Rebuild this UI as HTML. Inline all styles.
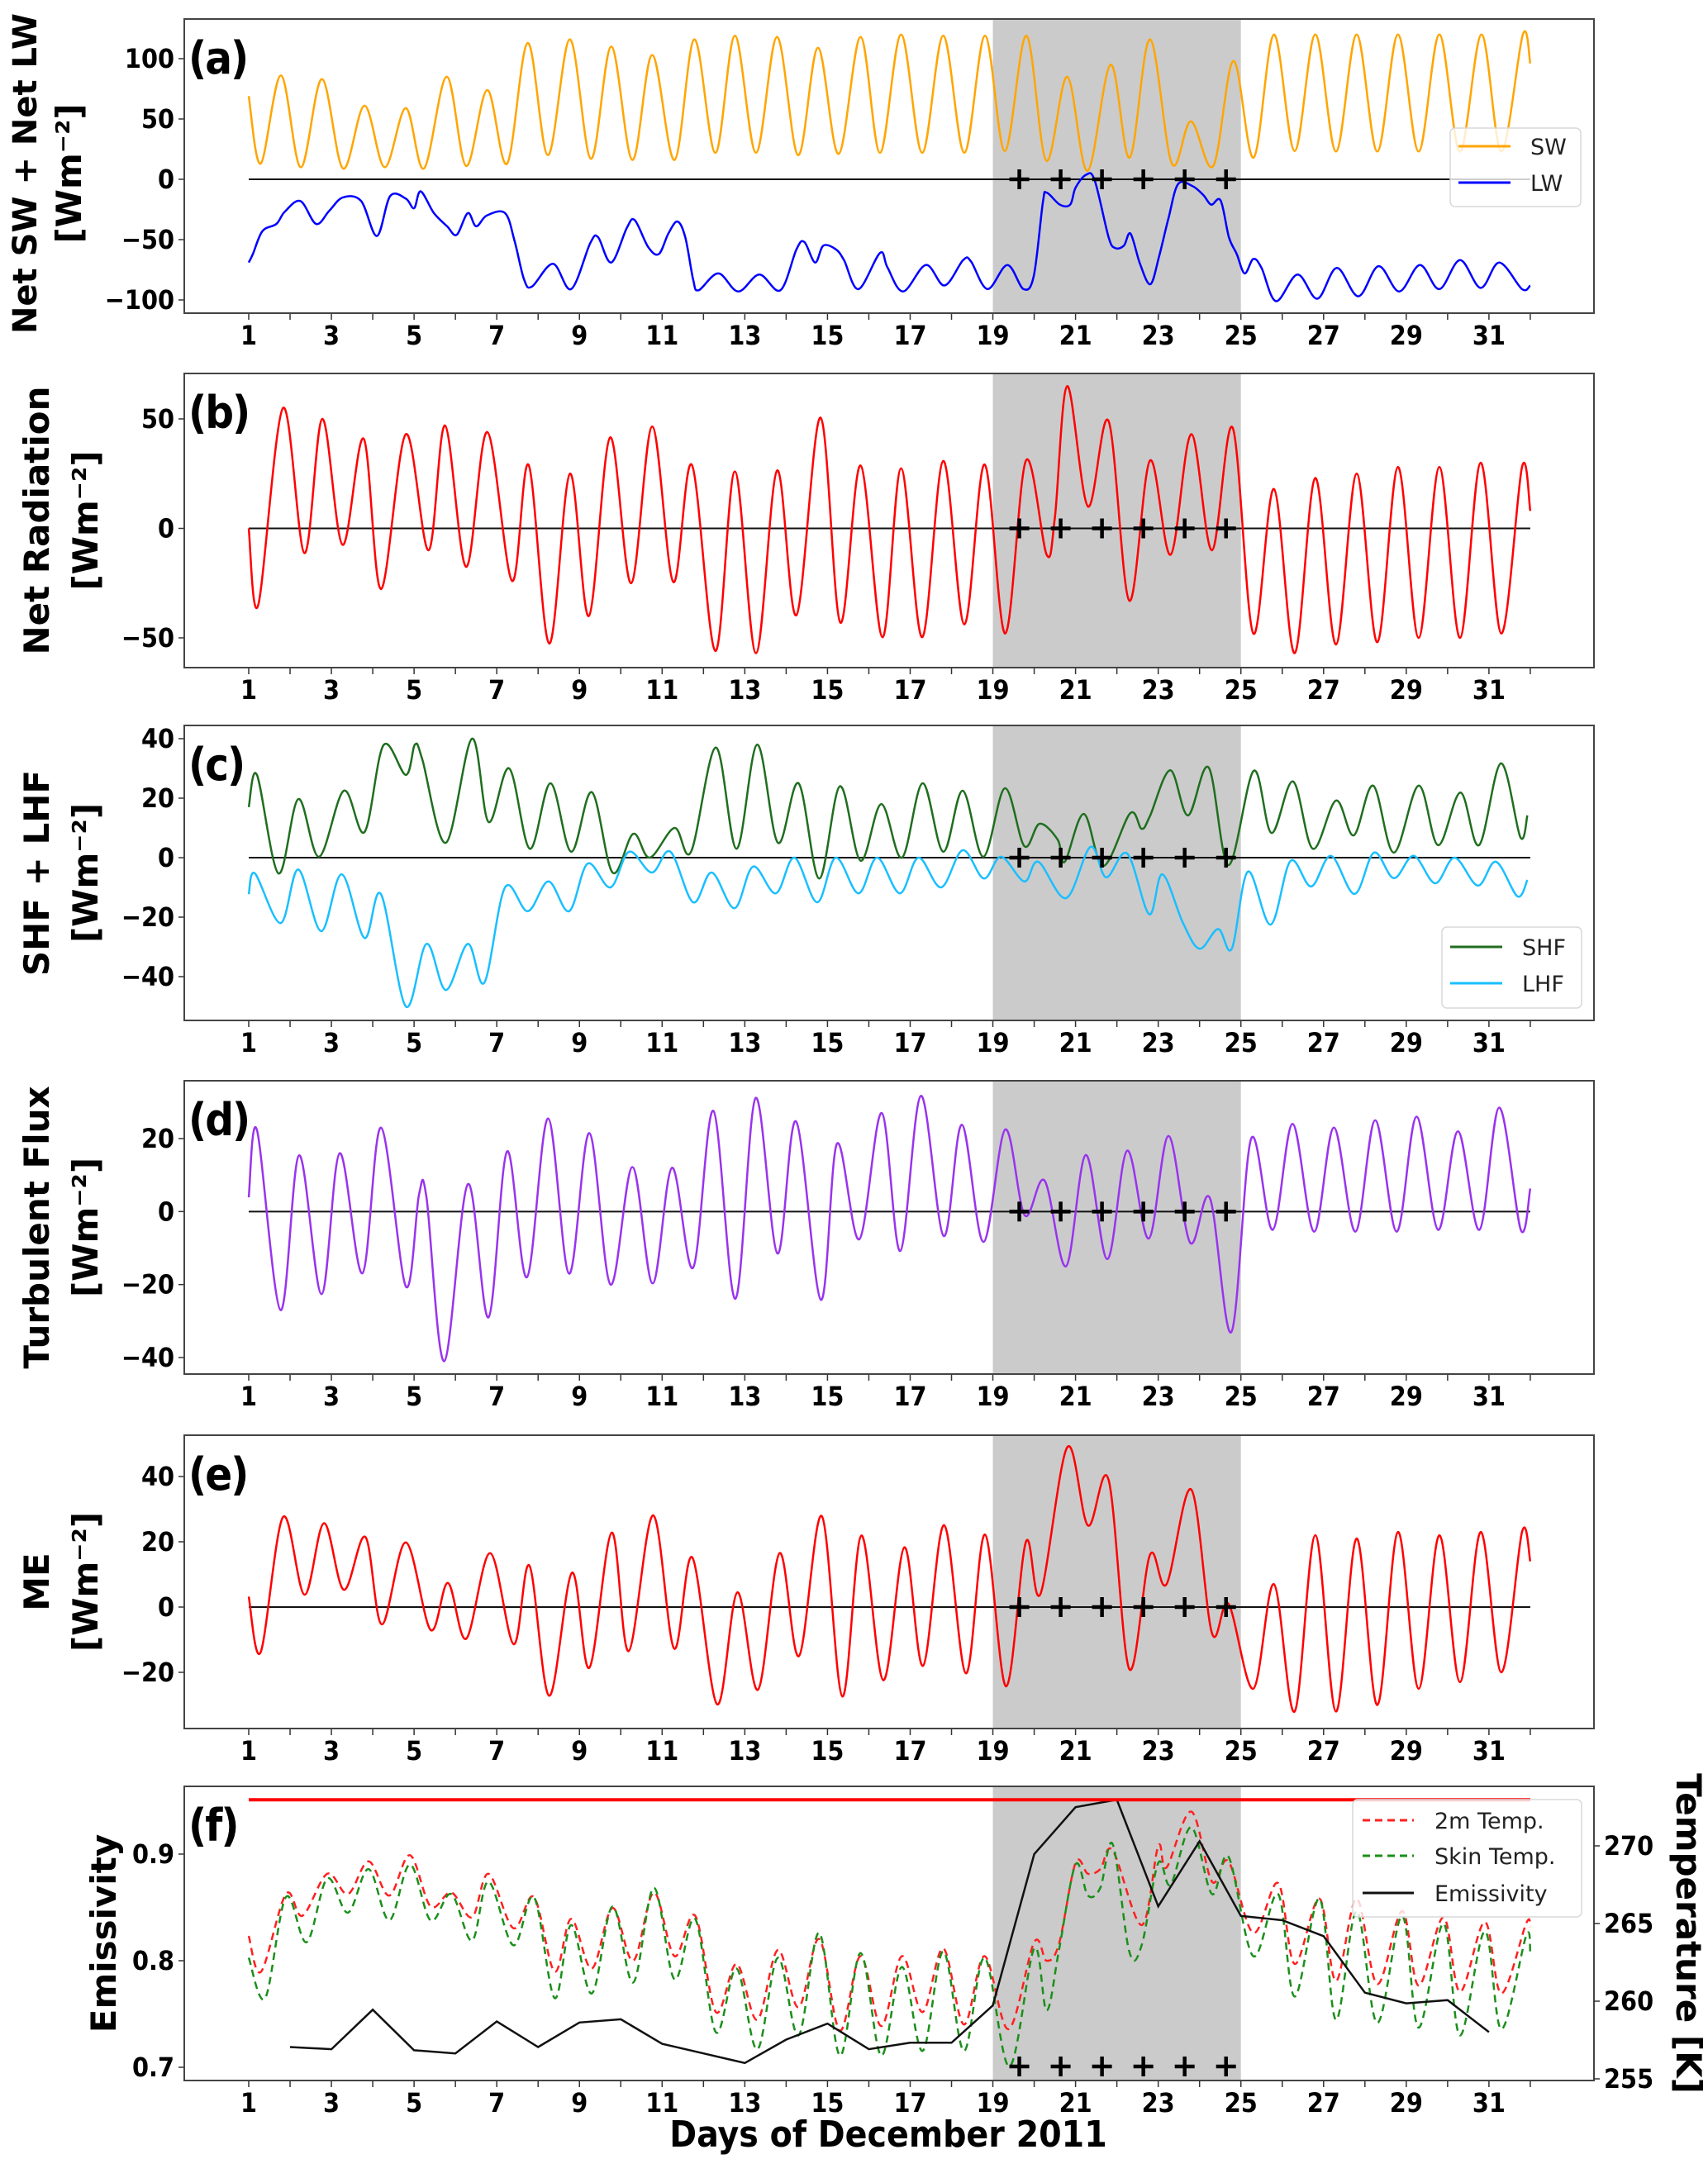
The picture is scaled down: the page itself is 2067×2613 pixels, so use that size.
<!DOCTYPE html>
<html><head><meta charset="utf-8">
<style>
html,body{margin:0;padding:0;background:#fff;}
svg{display:block;font-family:"DejaVu Sans","Liberation Sans",sans-serif;}
</style></head>
<body>
<svg id="fig" width="2067" height="2613" viewBox="0 0 2067 2613" xmlns="http://www.w3.org/2000/svg"></svg>
<script>
// ---------- DATA (time in days, values as read) ----------
const swT=[1,1.29,1.78,2.26,2.77,3.28,3.8,4.29,4.8,5.24,5.79,6.26,6.77,7.25,7.75,8.24,8.77,9.28,9.77,10.28,10.76,11.3,11.78,12.29,12.76,13.27,13.78,14.29,14.77,15.27,15.8,16.27,16.78,17.29,17.8,18.31,18.81,19.29,19.81,20.29,20.8,21.29,21.85,22.31,22.8,23.33,23.79,24.33,24.82,25.31,25.8,26.3,26.8,27.3,27.8,28.3,28.8,29.3,29.8,30.3,30.82,31.3,31.82,32];
const swV=[69,13,86,10,83,9,61,10,59,9,85,11,74,13,113,20,116,17,110,16,103,16,116,22,119,22,118,20,109,21,118,22,120,22,119,22,119,23.5,119,15.5,85,7,95,18,116,13,48,11,98,18,120,23.5,120,23,120,23,120,23,120,23,120,23,120,96];
const lwT=[1,1.1,1.33,1.67,1.87,2.25,2.63,2.95,3.28,3.72,4.1,4.42,4.8,5,5.16,5.48,5.8,6.03,6.3,6.5,6.76,7.2,7.43,7.66,7.85,8.36,8.8,9.26,9.45,9.77,10.15,10.34,10.66,10.92,11.15,11.37,11.56,11.75,11.88,12.36,12.84,13.35,13.86,14.25,14.44,14.7,14.9,15.2,15.4,15.75,16.27,16.45,16.83,17.38,17.83,18.28,18.47,18.87,19.35,19.74,19.99,20.21,20.3,20.62,20.87,21,21.25,21.46,21.8,21.96,22.17,22.33,22.56,22.81,23.02,23.25,23.48,23.82,24.09,24.28,24.51,24.71,24.9,25.09,25.3,25.5,25.85,26.37,26.85,27.32,27.84,28.33,28.83,29.33,29.8,30.3,30.8,31.25,31.8,32];
const lwV=[-69,-62,-43,-37,-27,-18,-37,-26,-15,-18,-47,-14,-16,-24,-10,-28,-39,-46,-28,-39,-30,-28,-51,-83,-89,-70,-91,-53,-48,-69,-40,-34,-56,-62,-45,-35,-48,-83,-92,-78,-93,-79,-92,-58,-52,-69,-55,-58,-67,-91,-61,-73,-93,-71,-88,-67,-68,-91,-71,-91,-80,-19,-11,-21,-21,-7,3.6,-0.5,-48,-57,-55,-45,-70,-87,-64,-32,-4,-5.5,-13,-21,-17.6,-48,-62,-78,-66,-73.5,-101,-79,-99,-73.5,-97,-72,-93,-71,-91,-67,-90,-69,-91,-88];
const nrT=[1,1.23,1.83,2.35,2.78,3.27,3.78,4.2,4.8,5.35,5.75,6.26,6.77,7.37,7.77,8.27,8.77,9.23,9.74,10.25,10.76,11.27,11.72,12.29,12.76,13.27,13.78,14.25,14.83,15.31,15.8,16.33,16.78,17.29,17.8,18.31,18.8,19.3,19.8,20.3,20.5,20.8,21.3,21.8,22.3,22.8,23.3,23.8,24.3,24.8,25.3,25.8,26.3,26.8,27.3,27.8,28.3,28.8,29.3,29.8,30.3,30.8,31.3,31.8,32];
const nrV=[0,-35,55,-11.3,50,-7.5,41,-27.7,43,-10,47,-17.6,44,-24,29,-52.6,25,-40,41.5,-25,46.5,-24.5,29,-56,26,-57,26.4,-39.6,50.6,-43,28.7,-49.7,27.4,-49.7,30.8,-43.8,29.2,-48,31,-12,5,65,10,49,-33,31,-12,43,-10,46,-48,18,-57,23,-53,25,-52,28,-50,28,-50,30,-48,28,8];
const shfT=[1,1.2,1.72,2.2,2.7,3.3,3.8,4.26,4.8,5.02,5.2,5.77,6.4,6.8,7.3,7.8,8.3,8.8,9.3,9.8,10.3,10.7,11.3,11.7,12.3,12.8,13.3,13.8,14.3,14.8,15.3,15.8,16.3,16.8,17.3,17.8,18.27,18.77,19.29,19.76,20.13,20.57,20.74,21.2,21.67,22.32,22.6,22.8,23.29,23.72,24.22,24.7,25.31,25.74,26.26,26.74,27.3,27.73,28.2,28.7,29.3,29.77,30.31,30.76,31.29,31.76,31.93];
const shfV=[17,27.8,-5.3,19.7,0.3,22.5,8.6,37.8,27.8,38,33,5,40,12,30,3,25,2,22,-5,8,0,10,2,37,3,38,5,25,-7,24,-1,18,0,25,2,22.5,0.3,23.3,3.9,11.4,6,-1.4,14.7,-2.8,14.9,9.7,14,29.4,14.2,30.3,-2.5,29.2,8.3,25.6,3,19.2,7.5,24.2,1.7,24.2,4.2,21.9,4.2,31.7,6.9,14.2];
const lhfT=[1,1.15,1.77,2.2,2.75,3.25,3.8,4.2,4.8,5.3,5.77,6.3,6.7,7.2,7.75,8.25,8.75,9.2,9.75,10.2,10.75,11.2,11.75,12.2,12.75,13.2,13.75,14.2,14.75,15.2,15.75,16.2,16.75,17.2,17.75,18.27,18.78,19.2,19.76,20.1,20.77,21.36,21.74,22.25,22.78,23.1,23.6,24,24.45,24.78,25.17,25.72,26.2,26.7,27.18,27.75,28.22,28.7,29.18,29.7,30.17,30.73,31.17,31.69,31.93];
const lhfV=[-12.3,-5.3,-22,-4,-24.7,-5.6,-27,-12.3,-50,-29,-44.5,-29,-42,-10,-18,-8,-18,-2,-10,2,-5,2,-15,-5,-17,-3,-12,0,-15,0,-12,0,-12,0,-10,2.5,-7,0.3,-8,-1.4,-13.6,3.6,-6.6,1.4,-19,-5.6,-22,-30.6,-24,-30.6,-4.7,-22.5,-1.1,-9.7,0.6,-12.2,1.7,-6.9,0.6,-8.6,0,-9.4,-1.4,-13,-7.5];
const tfT=[1,1.2,1.77,2.22,2.76,3.2,3.75,4.2,4.8,5.12,5.3,5.73,6.3,6.8,7.25,7.73,8.24,8.75,9.24,9.75,10.28,10.77,11.24,11.75,12.24,12.77,13.26,13.79,14.24,14.84,15.23,15.77,16.31,16.76,17.26,17.81,18.25,18.77,19.3,19.77,20.25,20.77,21.25,21.77,22.25,22.77,23.25,23.77,24.25,24.77,25.25,25.77,26.25,26.77,27.25,27.77,28.25,28.77,29.25,29.77,30.25,30.77,31.25,31.77,32];
const tfV=[3.9,22.3,-27,15.4,-22.6,16,-16.9,23,-20.5,4.7,3.9,-41,7.5,-29,16.5,-18,25.5,-17,21.5,-20,12.2,-19.7,12,-15.4,27.6,-23.9,31.1,-11.5,24.7,-24.2,18.6,-7.6,27,-10.8,31.7,-6.7,23.8,-8.3,22.5,-1,8.5,-15,15.5,-13,16.7,-7.4,20.7,-8.5,3.7,-33,20,-5,24,-5.5,23,-5.5,25,-5.5,26,-5,22,-5,28.5,-5,6.3];
const meT=[1,1.29,1.83,2.35,2.82,3.3,3.82,4.22,4.8,5.4,5.82,6.26,6.84,7.41,7.79,8.27,8.82,9.24,9.78,10.19,10.78,11.29,11.73,12.33,12.82,13.32,13.84,14.31,14.86,15.36,15.82,16.35,16.86,17.31,17.82,18.35,18.81,19.32,19.8,20.15,20.8,21.3,21.8,22.3,22.8,23.2,23.8,24.3,24.7,25.3,25.8,26.3,26.8,27.3,27.8,28.3,28.8,29.3,29.8,30.3,30.8,31.3,31.8,32];
const meV=[3.2,-13.8,27.6,3.8,25.7,5.3,21.5,-5.3,19.8,-7,7.4,-9.7,16.5,-11.4,12.7,-27.2,10.5,-18.6,22.8,-13.5,28.1,-12.7,15.2,-29.8,4.5,-25.3,16.5,-15,27.9,-27.4,21.9,-22.4,18.3,-18,25.1,-20.3,22.2,-24.3,20,4,49,25,39,-19,16,7,36,-8,1,-25,7,-32,22,-32,21,-30,23,-25,22,-23,23,-20,23,14];
const t2T=[1,1.3,1.9,2.3,2.9,3.4,3.9,4.4,4.9,5.4,5.9,6.4,6.8,7.4,7.9,8.4,8.8,9.3,9.8,10.3,10.8,11.3,11.8,12.3,12.8,13.3,13.8,14.3,14.8,15.3,15.8,16.3,16.8,17.3,17.8,18.3,18.8,19.38,20,20.3,20.6,21,21.3,21.6,21.9,22.6,23,23.2,23.8,24.3,24.7,25.3,25.9,26.3,26.9,27.3,27.8,28.3,28.9,29.3,29.9,30.3,30.9,31.3,31.9,32];
const t2V=[264.2,261.9,266.9,265.5,268.2,266.9,269.0,266.8,269.4,266.1,267.0,265.4,268.2,264.7,266.7,261.9,265.3,262.1,266.0,262.6,267.0,262.9,265.5,259.3,262.4,258.8,263.3,259.6,264.0,258.1,262.9,258.4,262.9,259.3,263.4,258.5,262.9,258.2,263.8,262.6,263.7,268.9,268.2,268.5,269.7,264.9,270.0,268.6,272.2,267.7,269.0,264.4,267.6,262.4,266.6,261.3,266.6,261.1,265.8,261.0,265.4,260.6,265.1,260.5,265.0,264.8];
const tsT=[1,1.4,1.9,2.4,2.9,3.4,3.9,4.4,4.9,5.4,5.9,6.4,6.8,7.4,7.9,8.4,8.8,9.3,9.8,10.3,10.8,11.3,11.8,12.3,12.8,13.3,13.8,14.3,14.8,15.3,15.8,16.3,16.8,17.3,17.8,18.3,18.8,19.4,20,20.3,20.6,21,21.3,21.6,21.9,22.3,22.6,23,23.3,23.8,24.3,24.7,25.3,25.9,26.3,26.9,27.3,27.8,28.3,28.9,29.3,29.9,30.3,30.9,31.3,31.9,32];
const tsV=[262.8,260.2,266.7,263.8,267.9,265.7,268.5,265.2,268.8,265.2,266.9,263.9,267.7,263.6,266.7,260.2,264.9,260.5,266.1,261.2,267.3,261.4,265.3,258.0,262.1,256.9,262.8,257.8,264.4,256.5,263.1,256.5,262.2,256.8,263.2,256.8,262.8,255.8,263.4,259.4,263.3,268.8,266.8,267.3,270.1,263.2,263.6,268.9,267.5,271.2,266.9,269.3,262.9,266.9,260.3,266.6,258.8,265.8,258.6,265.5,258.3,265.0,257.8,264.5,258.2,264.2,263.2];
const emT=[2,3,4,5,6,7,8,9,10,11,12,13,14,15,16,17,18,19,20,21,22,23,24,25,26,27,28,29,30,31];
const emV=[0.719,0.717,0.754,0.716,0.713,0.743,0.719,0.742,0.745,0.722,0.713,0.704,0.726,0.741,0.717,0.723,0.723,0.758,0.90,0.944,0.951,0.851,0.912,0.842,0.838,0.823,0.770,0.760,0.763,0.733];
const emMax=[0.951];
const xTicks=[1,3,5,7,9,11,13,15,17,19,21,23,25,27,29,31];
const plusDays=[19.64,20.64,21.64,22.64,23.64,24.64];
const shadeRange=[19,25];

// ---------- helpers ----------
const S=document.getElementById('fig');
const NS='http://www.w3.org/2000/svg';
const COND='"DejaVu Sans Condensed","DejaVu Sans",sans-serif';
const DJ='"DejaVu Sans","Liberation Sans",sans-serif';
function mk(tag,attrs,parent){const e=document.createElementNS(NS,tag);for(const k in attrs)e.setAttribute(k,attrs[k]);(parent||S).appendChild(e);return e;}
const L=223,R=1929;
function X(d){return 301+(d-1)*50.03;}
function lin(v1,p1,v2,p2){return v=>p1+(v-v1)*(p2-p1)/(v2-v1);}
function smoothPath(ts,vs,fx,fy){
  const P=ts.map((t,i)=>[fx(t),fy(vs[i])]);
  let d='M'+P[0][0].toFixed(1)+','+P[0][1].toFixed(1);
  for(let i=0;i<P.length-1;i++){
    const p0=P[Math.max(0,i-1)],p1=P[i],p2=P[i+1],p3=P[Math.min(P.length-1,i+2)];
    const c1=[p1[0]+(p2[0]-p0[0])/6,p1[1]+(p2[1]-p0[1])/6];
    const c2=[p2[0]-(p3[0]-p1[0])/6,p2[1]-(p3[1]-p1[1])/6];
    d+='C'+c1[0].toFixed(1)+','+c1[1].toFixed(1)+' '+c2[0].toFixed(1)+','+c2[1].toFixed(1)+' '+p2[0].toFixed(1)+','+p2[1].toFixed(1);
  }
  return d;
}
function txt(s,x,y,size,weight,anchor,parent,extra,fam){
  const t=mk('text',Object.assign({x:x,y:y,'font-size':size,'font-weight':weight,'text-anchor':anchor,fill:'#000','font-family':fam||DJ},extra||{}),parent);
  t.textContent=s;return t;
}

const panels=[
 {id:'a',top:23,bot:379,y:lin(100,71,-100,363),ticks:[100,50,0,-100,-50],tl:['100','50','0','\u2212100','\u221250'],t1:'Net SW + Net LW',t2:'[Wm\u207B\u00B2]',tx:[29,83],zero:true,fs:40,cy:210},
 {id:'b',top:452,bot:808,y:lin(50,507,-50,772),ticks:[50,0,-50],tl:['50','0','\u221250'],t1:'Net Radiation',t2:'[Wm\u207B\u00B2]',tx:[44,103],zero:true},
 {id:'c',top:878,bot:1235,y:lin(40,894,-40,1182),ticks:[40,20,0,-20,-40],tl:['40','20','0','\u221220','\u221240'],t1:'SHF + LHF',t2:'[Wm\u207B\u00B2]',tx:[44,103],zero:true},
 {id:'d',top:1308,bot:1663,y:lin(20,1378,-40,1643),ticks:[20,0,-20,-40],tl:['20','0','\u221220','\u221240'],t1:'Turbulent Flux',t2:'[Wm\u207B\u00B2]',tx:[44,103],zero:true},
 {id:'e',top:1737,bot:2092,y:lin(40,1787,-20,2024),ticks:[40,20,0,-20],tl:['40','20','0','\u221220'],t1:'ME',t2:'[Wm\u207B\u00B2]',tx:[44,103],zero:true},
 {id:'f',top:2162,bot:2518,y:lin(0.9,2244,0.7,2502),ticks:[0.9,0.8,0.7],tl:['0.9','0.8','0.7'],t1:'Emissivity',t2:null,tx:[125],zero:false}
];

panels.forEach(p=>{
  const g=mk('g',{});
  
  
  const sh=mk('rect',{x:X(shadeRange[0]),y:p.top,width:X(shadeRange[1])-X(shadeRange[0]),height:p.bot-p.top,fill:'#cbcbcb'},g);
  
  
  p.ticks.forEach((v,i)=>{
    const yy=p.y(v);
    mk('line',{x1:L-7,x2:L,y1:yy,y2:yy,stroke:'#333','stroke-width':1.5},g);
    const t=txt(p.tl[i],L-12,yy+11,32,'bold','end',g,null,COND);
    
    
  });
  for(let d=1;d<=32;d++){
    mk('line',{x1:X(d),x2:X(d),y1:p.bot,y2:p.bot+8,stroke:'#333','stroke-width':1.5},g);
  }
  xTicks.forEach(d=>{
    const t=txt(String(d),X(d),p.bot+38,32,'bold','middle',g,null,COND);
    
    
  });
  const cy=p.cy||(p.top+p.bot)/2;
  const fs=p.fs||42;
  const a1=txt(p.t1,p.tx[0],cy,fs,'bold','middle',g,{transform:'rotate(-90 '+p.tx[0]+' '+cy+')',dy:15});
  
  
  if(p.t2){
    const a2=txt(p.t2,p.tx[1],cy,42,'bold','middle',g,{transform:'rotate(-90 '+p.tx[1]+' '+cy+')',dy:15});
    
    
  }
  if(p.zero){
    const z=mk('line',{x1:X(1),x2:X(32),y1:p.y(0),y2:p.y(0),stroke:'#111','stroke-width':2},g);
    
    
  }
  p.g=g;
});

function series(p,ts,vs,color,name,w,dash,fy){
  const a={d:smoothPath(ts,vs,X,fy||p.y),fill:'none',stroke:color,'stroke-width':w||2.5,'stroke-linejoin':'round'};
  if(dash)a['stroke-dasharray']=dash;
  const e=mk('path',a,p.g);
  
  
}
const P={};panels.forEach(p=>P[p.id]=p);
series(P.a,swT,swV,'#ffa500','sw-line');
series(P.a,lwT,lwV,'#0000ff','lw-line');
series(P.b,nrT,nrV,'#ff0000','net-radiation-line');
series(P.c,shfT,shfV,'#1f6e1f','shf-line');
series(P.c,lhfT,lhfV,'#19bfff','lhf-line');
series(P.d,tfT,tfV,'#9933ee','turbulent-flux-line');
series(P.e,meT,meV,'#ff0000','me-line');
const yT=lin(270,2234,255,2516);
series(P.f,t2T,t2V,'#ff2020','temp-2m-line',2.5,'9,6',yT);
series(P.f,tsT,tsV,'#1a8f1a','skin-temp-line',2.5,'9,6',yT);
(function(){
  const pts=emT.map((t,i)=>X(t).toFixed(1)+','+P.f.y(emV[i]).toFixed(1)).join(' ');
  const e=mk('polyline',{points:pts,fill:'none',stroke:'#111','stroke-width':2.5},P.f.g);
  
  
  const m=mk('line',{x1:X(1),x2:X(32),y1:P.f.y(emMax[0]),y2:P.f.y(emMax[0]),stroke:'#ff0000','stroke-width':4},P.f.g);
  
  
})();
[270,265,260,255].forEach(v=>{
  const yy=yT(v);
  mk('line',{x1:R,x2:R+7,y1:yy,y2:yy,stroke:'#333','stroke-width':1.5});
  const t=txt(String(v),R+12,yy+11,32,'bold','start',S,null,COND);
  
  
});
{const t=txt('Temperature [K]',2044,2340,42,'bold','middle',S,{transform:'rotate(90 2044 2340)',dy:15});
}
panels.forEach(p=>{
  const yy=p.zero?p.y(0):2501;
  plusDays.forEach(d=>{
    const g=mk('g',{stroke:'#000','stroke-width':4.5},p.g);
    
    
    mk('line',{x1:X(d)-12,x2:X(d)+12,y1:yy,y2:yy},g);
    mk('line',{x1:X(d),x2:X(d),y1:yy-12,y2:yy+12},g);
  });
});
panels.forEach(p=>{
  const f=mk('rect',{x:L,y:p.top,width:R-L,height:p.bot-p.top,fill:'none',stroke:'#444','stroke-width':2},p.g);
  
  
  const t=txt('('+p.id+')',228,p.top+66,54,'bold','start',p.g,{'letter-spacing':'-2'},COND);
  
  
});
function legend(x,y,w,h,items,name){
  const g=mk('g',{});
  
  
  mk('rect',{x:x,y:y,width:w,height:h,rx:6,fill:'rgba(255,255,255,0.8)',stroke:'#d8d8d8','stroke-width':1.5},g);
  items.forEach(it=>{
    const a={x1:it.lx1,x2:it.lx2,y1:it.y,y2:it.y,stroke:it.c,'stroke-width':3};
    if(it.dash)a['stroke-dasharray']=it.dash;
    mk('line',a,g);
    const t=txt(it.label,it.tx,it.y+10,27,'normal','start',g,{fill:'#222'});
    
    
  });
}
legend(1755,155,158,95,[{label:'SW',c:'#ffa500',y:177,lx1:1765,lx2:1828,tx:1852},{label:'LW',c:'#0000ff',y:221,lx1:1765,lx2:1828,tx:1852}],'legend-a');
legend(1745,1122,169,98,[{label:'SHF',c:'#1f6e1f',y:1146,lx1:1755,lx2:1818,tx:1842},{label:'LHF',c:'#19bfff',y:1190,lx1:1755,lx2:1818,tx:1842}],'legend-c');
legend(1637,2178,277,142,[{label:'2m Temp.',c:'#ff2020',dash:'9,6',y:2203,lx1:1649,lx2:1711,tx:1736},{label:'Skin Temp.',c:'#1a8f1a',dash:'9,6',y:2246,lx1:1649,lx2:1711,tx:1736},{label:'Emissivity',c:'#111',y:2291,lx1:1649,lx2:1711,tx:1736}],'legend-f');
{const t=txt('Days of December 2011',1075,2598,44,'bold','middle',S,null,COND);
}
</script>
</body></html>
